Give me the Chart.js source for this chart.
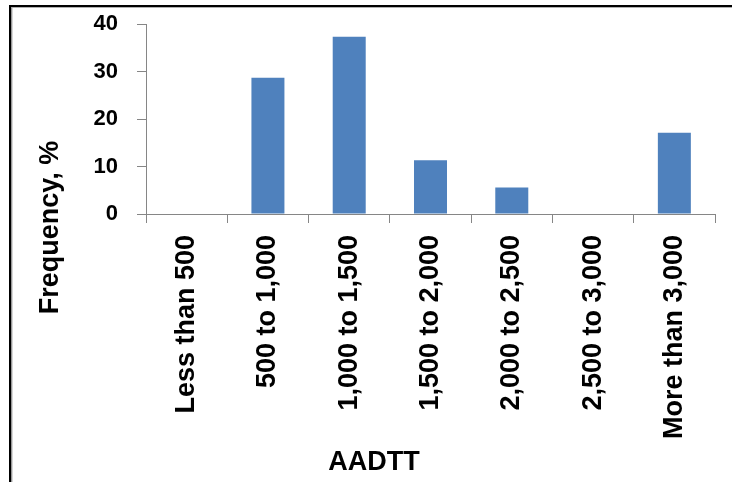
<!DOCTYPE html>
<html>
<head>
<meta charset="utf-8">
<script src="https://cdn.jsdelivr.net/npm/chart.js@4"></script>
<style>
  html, body { margin: 0; padding: 0; background: #fff; }
  #wrap { position: relative; width: 732px; height: 482px; }
  canvas { display: block; }
</style>
</head>
<body>
<div id="wrap"><canvas id="c" width="732" height="482"></canvas></div>
<script>
// AADTT bins and share of sites in each bin (percent)
const categories = ['Less than 500', '500 to 1,000', '1,000 to 1,500', '1,500 to 2,000', '2,000 to 2,500', '2,500 to 3,000', 'More than 3,000'];
const frequency = [0, 28.7, 37.3, 11.3, 5.6, 0, 17.1];
const yTicks = [0, 10, 20, 30, 40];
const xTitle = 'AADTT';
const yTitle = 'Frequency, %';

const FONT = '"Liberation Sans", Arial, sans-serif';
const AXIS_GREY = '#868686';

// Frame lines and axis titles drawn on the canvas
const framePlugin = {
  id: 'frame',
  afterDraw(chart) {
    const ctx = chart.ctx;
    ctx.save();
    // black frame on top and left edges
    ctx.fillStyle = '#000';
    ctx.fillRect(9, 5, 732, 2);
    ctx.fillRect(9, 5, 2.5, 482);
    ctx.fillStyle = '#b0b0b0';
    ctx.fillRect(11.5, 7, 732, 1);
    ctx.fillRect(11.5, 7, 1, 482);

    ctx.fillStyle = '#000';
    ctx.font = 'bold 27px ' + FONT;
    // x axis title
    ctx.textAlign = 'center';
    ctx.textBaseline = 'alphabetic';
    ctx.fillText(xTitle, 374, 470);
    // y axis title, reading upward
    ctx.translate(58, 227.5);
    ctx.rotate(-Math.PI / 2);
    ctx.fillText(yTitle, 0, 0);
    ctx.restore();
  }
};

new Chart(document.getElementById('c'), {
  type: 'bar',
  data: {
    labels: categories,
    datasets: [{
      data: frequency,
      backgroundColor: '#4F81BD',
      borderWidth: 0,
      categoryPercentage: 1,
      barPercentage: 0.406
    }]
  },
  options: {
    responsive: false,
    animation: false,
    events: [],
    layout: { padding: { left: 0, right: 17, top: 24, bottom: 0 } },
    plugins: {
      legend: { display: false },
      tooltip: { enabled: false }
    },
    scales: {
      x: {
        offset: true,
        grid: {
          offset: true,
          drawOnChartArea: false,
          drawTicks: true,
          tickLength: 9,
          color: AXIS_GREY,
          lineWidth: 1
        },
        border: { color: AXIS_GREY, width: 1 },
        ticks: {
          color: '#000',
          font: { family: FONT, size: 27, weight: 'bold' },
          minRotation: 90,
          maxRotation: 90,
          padding: 12,
          autoSkip: false
        },
        afterFit(scale) {
          scale.height = 482 - 214;
          scale.paddingLeft = 0;
          scale.paddingRight = 0;
        }
      },
      y: {
        min: 0,
        max: 40,
        afterBuildTicks(scale) { scale.ticks = yTicks.map(v => ({ value: v })); },
        grid: {
          drawOnChartArea: false,
          drawTicks: true,
          tickLength: 9,
          color: AXIS_GREY,
          lineWidth: 1
        },
        border: { color: AXIS_GREY, width: 1 },
        ticks: {
          color: '#000',
          font: { family: FONT, size: 22, weight: 'bold' },
          padding: 19
        },
        afterFit(scale) {
          scale.width = 146;
          // the top/bottom labels sit inside the layout padding
          scale.paddingTop = 0;
          scale.paddingBottom = 0;
        }
      }
    }
  },
  plugins: [framePlugin]
});
</script>
</body>
</html>
